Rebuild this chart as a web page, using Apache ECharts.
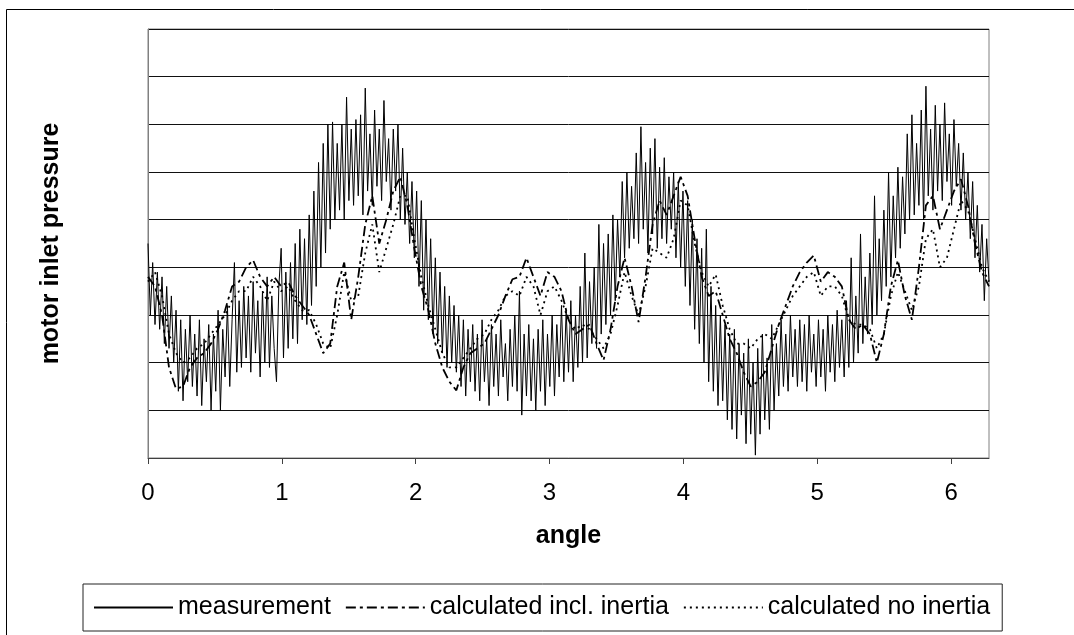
<!DOCTYPE html>
<html>
<head>
<meta charset="utf-8">
<title>motor inlet pressure</title>
<script src="https://cdn.jsdelivr.net/npm/echarts@6/dist/echarts.min.js"></script>
<style>
  html, body { margin: 0; padding: 0; background: #fff; }
  #chart { width: 1074px; height: 635px; }
</style>
</head>
<body>
<div id="chart"></div>
<script>
// measured pressure, one sample per degree (0..360), in gridline units
const measurement = [
  4.5, 3.0, 4.1, 2.8, 3.9, 2.7, 3.8, 2.4, 3.6, 2.3,
  3.4, 2.0, 3.1, 1.4, 2.9, 1.2, 2.7, 1.6, 3.0, 1.5,
  2.6, 1.3, 2.9, 1.1, 2.5, 1.6, 2.8, 1.0, 2.6, 1.4,
  3.1, 1.0, 2.7, 1.7, 3.2, 1.5, 2.9, 4.1, 1.8, 3.3,
  1.9, 3.6, 2.1, 3.4, 1.8, 3.7, 2.2, 3.3, 1.7, 3.5,
  2.0, 3.8, 1.9, 3.4, 2.3, 1.6, 3.6, 4.4, 2.1, 3.9,
  2.3, 4.1, 2.5, 4.5, 2.4, 4.8, 2.9, 4.6, 2.8, 5.1,
  3.2, 5.6, 3.6, 6.2, 4.0, 6.6, 4.3, 7.0, 4.8, 7.05,
  5.0, 6.6, 5.2, 7.0, 5.0, 7.57, 5.4, 6.9, 5.3, 7.1,
  5.5, 7.2, 5.1, 7.76, 5.6, 6.8, 5.3, 7.3, 5.7, 6.9,
  5.4, 7.5, 5.8, 6.7, 5.2, 6.9, 5.6, 7.0, 5.0, 6.5,
  4.9, 6.0, 4.5, 5.8, 4.2, 5.6, 3.6, 5.4, 3.1, 5.0,
  2.9, 4.6, 2.6, 4.2, 2.4, 3.9, 2.2, 3.6, 1.9, 3.4,
  2.0, 3.2, 1.8, 3.0, 1.5, 2.9, 1.3, 2.7, 1.6, 2.8,
  1.4, 2.6, 1.2, 2.9, 1.6, 2.5, 1.1, 2.8, 1.5, 2.6,
  1.3, 2.9, 1.7, 2.4, 1.2, 2.7, 1.5, 3.0, 1.4, 3.5,
  0.9, 2.6, 1.3, 2.8, 1.2, 2.5, 1.0, 2.7, 1.4, 2.9,
  1.1, 2.6, 1.5, 3.0, 1.3, 2.8, 1.7, 3.2, 1.6, 3.1,
  1.8, 3.3, 1.6, 3.0, 1.9, 3.6, 2.0, 4.3, 2.1, 3.7,
  2.4, 4.0, 2.3, 4.9, 2.6, 4.5, 2.8, 4.7, 3.0, 5.1,
  3.3, 5.0, 3.8, 5.8, 4.2, 6.0, 4.4, 5.7, 4.6, 6.4,
  4.5, 6.95, 4.8, 6.2, 4.3, 6.5, 4.7, 6.7, 4.4, 6.1,
  4.6, 6.3, 4.5, 5.9, 4.8, 6.0, 4.2, 5.8, 4.0, 5.6,
  3.6, 5.4, 3.2, 5.0, 2.7, 4.6, 2.4, 4.4, 2.0, 4.8,
  1.6, 3.6, 1.4, 3.2, 1.1, 3.0, 1.2, 2.8, 0.8, 2.6,
  0.6, 2.7, 0.4, 2.4, 0.9, 2.2, 0.3, 2.5, 0.5, 2.0,
  0.06, 2.3, 0.5, 2.6, 0.8, 2.1, 0.6, 2.8, 1.0, 2.4,
  1.3, 2.9, 1.5, 2.6, 1.4, 3.0, 1.7, 2.7, 1.5, 2.9,
  1.6, 2.8, 1.4, 3.0, 1.8, 2.6, 1.5, 2.9, 1.7, 2.7,
  1.4, 3.0, 1.8, 2.8, 1.6, 3.1, 1.9, 2.9, 1.7, 3.3,
  1.9, 4.2, 2.0, 3.4, 2.2, 4.7, 2.4, 3.8, 2.6, 4.3,
  2.8, 5.5, 3.0, 4.6, 3.3, 5.2, 3.6, 6.0, 3.8, 5.5,
  4.2, 6.1, 4.4, 5.9, 4.7, 6.8, 5.0, 7.2, 5.1, 6.6,
  5.3, 7.3, 5.0, 7.8, 5.5, 6.9, 5.2, 7.4, 5.6, 7.0,
  5.4, 7.45, 5.8, 6.8, 5.3, 7.1, 5.7, 6.6, 5.2, 6.4,
  5.0, 6.0, 4.6, 5.8, 4.2, 5.3, 3.9, 4.9, 3.3, 4.6, 3.7
]

// calculated curves, one value every 3 degrees (0..360)
const calcInertia = [
  3.8, 3.6, 3.0, 1.9, 1.45, 1.5, 1.9, 2.1, 2.2, 2.4,
  2.7, 3.1, 3.6, 3.7, 4.0, 4.15, 3.8, 3.6, 3.8, 3.6,
  3.7, 3.4, 3.2, 3.0, 2.6, 2.2, 2.4, 3.6, 4.1, 2.9,
  3.8, 4.9, 5.5, 4.5, 5.0, 5.6, 5.9, 5.3, 4.4, 3.6,
  3.1, 2.4, 1.9, 1.6, 1.42, 1.9, 2.2, 2.3, 2.4, 2.7,
  3.0, 3.4, 3.75, 3.8, 4.2, 3.8, 3.4, 3.9, 3.8, 3.5,
  2.9, 2.6, 2.7, 2.8, 2.4, 2.05, 2.7, 3.6, 4.2, 3.6,
  2.85, 3.8, 4.9, 5.4, 5.1, 5.5, 5.9, 5.5, 4.6, 3.8,
  3.4, 3.5, 3.0, 2.5, 2.2, 1.8, 1.5, 1.6, 1.8, 2.3,
  2.8, 3.2, 3.6, 3.9, 4.1, 4.25, 3.7, 3.9, 3.8, 3.6,
  2.9, 2.7, 2.8, 2.6, 2.0, 2.6, 3.6, 4.15, 3.4, 2.9,
  4.0, 5.3, 5.5, 4.8, 5.2, 5.6, 5.85, 5.3, 4.5, 3.9,
  3.6
]

const calcNoInertia = [
  3.7, 3.9, 3.4, 2.6, 2.2, 2.0, 2.1, 2.3, 2.4, 2.6,
  2.8, 3.0, 3.3, 3.5, 3.5, 3.8, 3.6, 3.3, 3.7, 3.5,
  3.6, 3.3, 3.1, 3.1, 2.8, 2.4, 2.3, 3.0, 3.9, 3.3,
  3.4, 4.3, 4.9, 3.9, 4.4, 4.9, 5.5, 5.5, 4.6, 3.8,
  3.2, 2.7, 2.2, 1.9, 1.9, 2.1, 2.3, 2.5, 2.6, 2.9,
  3.1, 3.4, 3.5, 3.4, 3.8, 3.6, 3.0, 3.5, 3.6, 3.3,
  2.9, 2.7, 2.8, 2.7, 2.5, 2.3, 2.6, 3.2, 3.9, 3.4,
  3.0, 3.6, 4.4, 4.3, 4.2, 4.6, 5.4, 5.3, 4.5, 3.9,
  3.6, 3.85, 3.2, 2.7, 2.4, 2.4, 2.3, 2.5, 2.6, 2.5,
  2.8, 3.1, 3.4, 3.6, 3.8, 3.9, 3.4, 3.6, 3.6, 3.4,
  2.9, 2.8, 2.8, 2.7, 2.3, 2.6, 3.4, 3.9, 3.5, 3.1,
  3.6, 4.6, 4.8, 4.0, 4.2, 4.8, 5.4, 5.2, 4.6, 4.0,
  3.7
]

const xTicks = [0, 1, 2, 3, 4, 5, 6]
const seriesNames = ['measurement', 'calculated incl. inertia', 'calculated no inertia']

const FONT = '"Liberation Sans", Arial, sans-serif'
const deg = Math.PI / 180
const NO_FILL = 'rgba(0,0,0,0)'

const chart = echarts.init(document.getElementById('chart'), null, { renderer: 'canvas' })

chart.setOption({
  animation: false,
  backgroundColor: '#fff',
  textStyle: { fontFamily: FONT, color: '#000' },
  // outer chart frame (only top and left edges fall inside the picture)
  graphic: [{
    type: 'rect',
    silent: true,
    z: -10,
    shape: { x: 6.5, y: 9.5, width: 1200, height: 800 },
    style: { fill: 'none', stroke: '#000', lineWidth: 1 }
  }],
  grid: {
    left: 148,
    top: 29,
    right: 85,
    bottom: 177,
    show: true,
    borderColor: '#808080',
    borderWidth: 1
  },
  legend: {
    data: seriesNames,
    left: 83,
    top: 584,
    padding: [11, 12, 11, 10],
    itemWidth: 79,
    itemHeight: 14,
    itemGap: 14,
    borderColor: '#222',
    borderWidth: 1,
    // hide the marker dot ECharts puts in the middle of line icons
    itemStyle: { color: NO_FILL, borderColor: NO_FILL, borderWidth: 0 },
    textStyle: { fontSize: 25, color: '#000', fontFamily: FONT }
  },
  xAxis: {
    type: 'value',
    min: 0,
    max: 2 * Math.PI,
    interval: 1,
    name: 'angle',
    nameLocation: 'middle',
    nameGap: 66,
    nameTextStyle: { fontSize: 25, fontWeight: 'bold', color: '#000', fontFamily: FONT },
    axisLine: { show: true, lineStyle: { color: '#404040', width: 1 } },
    axisTick: { show: true, inside: false, length: 6, customValues: xTicks, lineStyle: { color: '#404040' } },
    axisLabel: { customValues: xTicks, fontSize: 24, color: '#000', margin: 23, fontFamily: FONT },
    splitLine: { show: false }
  },
  yAxis: {
    type: 'value',
    min: 0,
    max: 9,
    interval: 1,
    name: 'motor inlet pressure',
    nameLocation: 'middle',
    nameGap: 84,
    nameTextStyle: { fontSize: 25, fontWeight: 'bold', color: '#000', fontFamily: FONT },
    axisLine: { show: true, lineStyle: { color: '#808080' } },
    axisTick: { show: false },
    axisLabel: { show: false },
    splitLine: { show: true, lineStyle: { color: '#111', width: 1 } }
  },
  series: [
    {
      name: seriesNames[0],
      type: 'line',
      symbol: 'none',
      data: measurement.map((v, i) => [i * deg, v]),
      lineStyle: { color: '#000', width: 1 },
      itemStyle: { color: NO_FILL }
    },
    {
      name: seriesNames[1],
      type: 'line',
      symbol: 'none',
      data: calcInertia.map((v, k) => [k * 3 * deg, v]),
      lineStyle: { color: '#000', width: 1.8, type: [10, 4, 3, 4] },
      itemStyle: { color: NO_FILL }
    },
    {
      name: seriesNames[2],
      type: 'line',
      symbol: 'none',
      data: calcNoInertia.map((v, k) => [k * 3 * deg, v]),
      lineStyle: { color: '#000', width: 1.8, type: [2, 4] },
      itemStyle: { color: NO_FILL }
    }
  ]
})

window.addEventListener('resize', () => chart.resize())
</script>
</body>
</html>
